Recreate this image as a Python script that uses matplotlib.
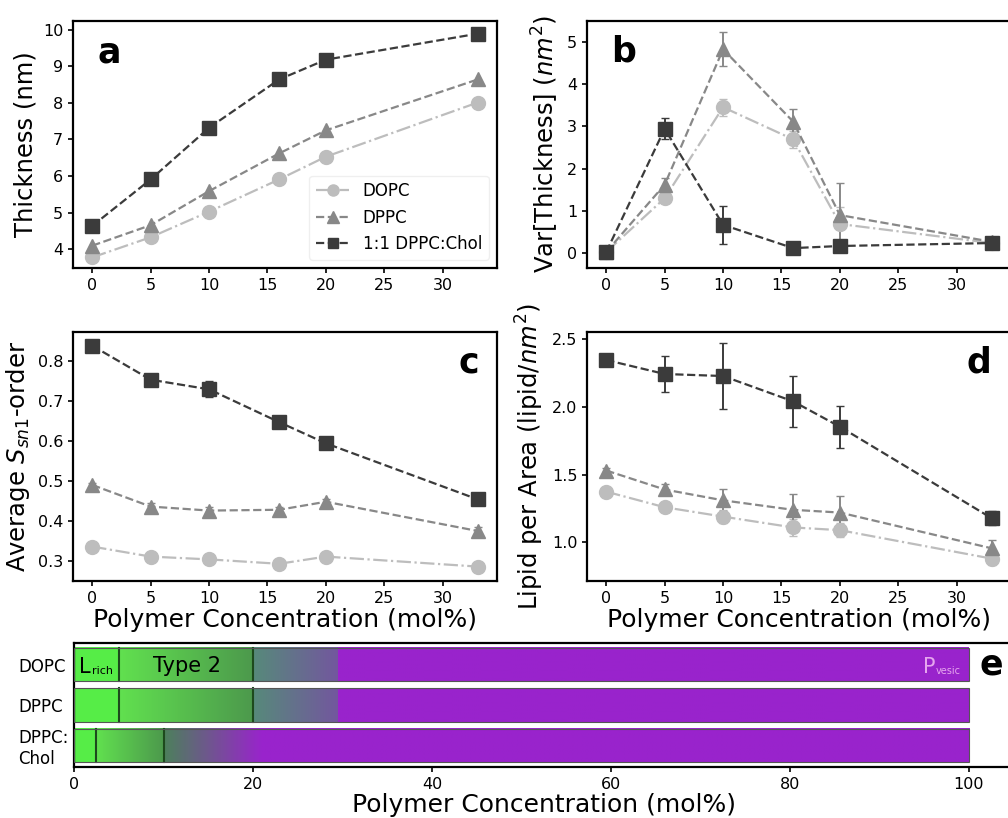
import numpy as np
import matplotlib
matplotlib.use('Agg')
import matplotlib.pyplot as plt
from matplotlib.patches import Rectangle

# 数据
conc = [0, 5, 10, 16, 20, 33]
lipids = ['DOPC', 'DPPC', '1:1 DPPC:Chol']

thick_dopc = [3.78, 4.33, 5.03, 5.91, 6.53, 8.01]
thick_dppc = [4.10, 4.66, 5.59, 6.62, 7.25, 8.64]
thick_chol = [4.64, 5.91, 7.32, 8.64, 9.18, 9.89]

var_dopc = [0.03, 1.30, 3.45, 2.69, 0.69, 0.24]
var_dppc = [0.03, 1.62, 4.82, 3.11, 0.90, 0.27]
var_chol = [0.03, 2.94, 0.67, 0.12, 0.17, 0.24]
var_dopc_err = [0.02, 0.10, 0.20, 0.20, 0.40, 0.05]
var_dppc_err = [0.02, 0.15, 0.40, 0.30, 0.75, 0.05]
var_chol_err = [0.02, 0.25, 0.45, 0.05, 0.08, 0.05]

order_dopc = [0.336, 0.311, 0.304, 0.293, 0.311, 0.286]
order_dppc = [0.490, 0.436, 0.426, 0.428, 0.448, 0.375]
order_chol = [0.838, 0.753, 0.729, 0.647, 0.594, 0.454]
order_dopc_err = [0.005, 0.005, 0.005, 0.008, 0.005, 0.005]
order_dppc_err = [0.005, 0.008, 0.008, 0.008, 0.008, 0.01]
order_chol_err = [0.005, 0.008, 0.02, 0.008, 0.008, 0.008]

apl_dopc = [1.374, 1.259, 1.19, 1.11, 1.09, 0.88]
apl_dppc = [1.53, 1.39, 1.31, 1.24, 1.22, 0.956]
apl_chol = [2.345, 2.242, 2.227, 2.04, 1.853, 1.178]
apl_dopc_err = [0.02, 0.03, 0.05, 0.06, 0.05, 0.05]
apl_dppc_err = [0.02, 0.04, 0.08, 0.12, 0.12, 0.06]
apl_chol_err = [0.02, 0.13, 0.24, 0.19, 0.155, 0.05]

# 相图 (e): 相边界
phase_rows = ['DOPC', 'DPPC', 'DPPC:\nChol']
lrich_end = [5, 5, 2.5]
type2_end = [20, 20, 10]
trans_end = [29.5, 29.5, 21]
conc_max = 100

colors = ['#bdbdbd', '#888888', '#3b3b3b']
markers = ['o', '^', 's']
msizes = [10, 10, 9.5]
styles = ['-.', '--', '--']

plt.rcParams['font.family'] = 'DejaVu Sans'
plt.rcParams['axes.linewidth'] = 1.6

W, H = 1008, 818
fig = plt.figure(figsize=(W / 100, H / 100), dpi=100)

def px_axes(x0, y0, x1, y1):
    return fig.add_axes([x0 / W, 1 - y1 / H, (x1 - x0) / W, (y1 - y0) / H])

ax_a = px_axes(73, 20.5, 497, 268)
ax_b = px_axes(587, 20.5, 1011, 268)
ax_c = px_axes(73, 331.7, 497, 581)
ax_d = px_axes(587, 331.7, 1011, 581)
ax_e = px_axes(74, 642.7, 74 + 105 * 8.95, 767.3)

def draw(ax, ys, errs=None):
    for i in range(3):
        if errs is None:
            ax.plot(conc, ys[i], linestyle=styles[i], color=colors[i], marker=markers[i],
                    ms=msizes[i], lw=1.6, label=lipids[i])
        else:
            ax.errorbar(conc, ys[i], yerr=errs[i], linestyle=styles[i], color=colors[i],
                        marker=markers[i], ms=msizes[i], lw=1.6, capsize=3, elinewidth=1.4,
                        label=lipids[i])
    ax.tick_params(labelsize=11.5, width=1.2)

draw(ax_a, [thick_dopc, thick_dppc, thick_chol])
draw(ax_b, [var_dopc, var_dppc, var_chol], [var_dopc_err, var_dppc_err, var_chol_err])
draw(ax_c, [order_dopc, order_dppc, order_chol], [order_dopc_err, order_dppc_err, order_chol_err])
draw(ax_d, [apl_dopc, apl_dppc, apl_chol], [apl_dopc_err, apl_dppc_err, apl_chol_err])

for ax in [ax_a, ax_b, ax_c, ax_d]:
    ax.set_xlim(-1.65, 34.65)
    ax.set_xticks([0, 5, 10, 15, 20, 25, 30])

ax_a.set_ylim(3.49, 10.25)
ax_b.set_ylim(-0.35, 5.5)
ax_c.set_ylim(0.25, 0.873)
ax_d.set_ylim(0.715, 2.554)
ax_b.set_yticks([0, 1, 2, 3, 4, 5])
ax_c.set_yticks([0.3, 0.4, 0.5, 0.6, 0.7, 0.8])
ax_d.set_yticks([1.0, 1.5, 2.0, 2.5])

ax_a.set_ylabel('Thickness (nm)', fontsize=17.5)
ax_b.set_ylabel(r'Var[Thickness] $(nm^2)$', fontsize=17.5)
ax_c.set_ylabel(r'Average $S_{sn1}$-order', fontsize=17.5)
ax_d.set_ylabel(r'Lipid per Area (lipid/$nm^2$)', fontsize=17.5)
ax_c.set_xlabel('Polymer Concentration (mol%)', fontsize=18, labelpad=2)
ax_d.set_xlabel('Polymer Concentration (mol%)', fontsize=18, labelpad=2)

leg = ax_a.legend(loc='lower right', fontsize=12, markerscale=0.8, framealpha=0.9)
leg.get_frame().set_edgecolor('#eeeeee')

ax_a.text(0.057, 0.832, 'a', transform=ax_a.transAxes, fontsize=25, fontweight='bold', va='baseline')
ax_b.text(0.058, 0.833, 'b', transform=ax_b.transAxes, fontsize=25, fontweight='bold', va='baseline')
ax_c.text(0.959, 0.836, 'c', transform=ax_c.transAxes, fontsize=25, fontweight='bold', va='baseline', ha='right')
ax_d.text(0.954, 0.836, 'd', transform=ax_d.transAxes, fontsize=25, fontweight='bold', va='baseline', ha='right')

# 相图
g_rich = (0.34, 0.93, 0.28)
g_t2a = (0.38, 0.88, 0.31)
g_t2b = (0.30, 0.60, 0.30)
t_a = (0.34, 0.54, 0.48)
t_b = (0.45, 0.34, 0.62)
purple = (0.60, 0.14, 0.80)
bh = 0.82

def grad(ax, x0, x1, c0, c1, y):
    arr = np.array([np.linspace(c0[k], c1[k], 64) for k in range(3)]).T[None, :, :]
    ax.imshow(arr, extent=[x0, x1, y + bh / 2, y - bh / 2], aspect='auto', interpolation='bilinear', zorder=1)

for i in range(3):
    grad(ax_e, 0, lrich_end[i], g_rich, g_rich, i)
    grad(ax_e, lrich_end[i], type2_end[i], g_t2a, g_t2b, i)
    if i < 2:
        grad(ax_e, type2_end[i], trans_end[i], t_a, t_b, i)
    else:
        grad(ax_e, type2_end[i], trans_end[i], (0.30, 0.50, 0.36), purple, i)
    grad(ax_e, trans_end[i], conc_max, purple, purple, i)
    for b in [lrich_end[i], type2_end[i]]:
        ax_e.plot([b, b], [i - bh / 2, i + bh / 2], color='#1d4a1d', lw=1.5, zorder=3)
    ax_e.add_patch(Rectangle((0, i - bh / 2), conc_max, bh, fill=False, ec='#555555', lw=0.8, zorder=4))

ax_e.text(0.6, 0.05, 'L', fontsize=15, va='center', ha='left', zorder=5)
ax_e.text(2.0, 0.17, 'rich', fontsize=8, va='center', ha='left', zorder=5)
ax_e.text(12.6, 0.03, 'Type 2', fontsize=15, va='center', ha='center', zorder=5)
ax_e.text(94.9, 0.05, 'P', fontsize=15, va='center', ha='left', color='#e6a6ee', zorder=5)
ax_e.text(96.3, 0.17, 'vesic', fontsize=7, va='center', ha='left', color='#e6a6ee', zorder=5)
ax_e.text(102.5, 0, 'e', fontsize=25, fontweight='bold', va='center', ha='center')

ax_e.set_xlim(0, 105)
ax_e.set_ylim(2.54, -0.54)
ax_e.set_yticks([0, 1, 2])
ax_e.set_yticklabels(phase_rows, fontsize=12)
for lab in ax_e.get_yticklabels():
    lab.set_ha('left')
ax_e.set_xticks([0, 20, 40, 60, 80, 100])
ax_e.tick_params(axis='x', labelsize=11.5, width=1.2)
ax_e.tick_params(axis='y', length=0, pad=40)
ax_e.set_xlabel('Polymer Concentration (mol%)', fontsize=18, labelpad=1)

fig.savefig('out.png', dpi=100)
